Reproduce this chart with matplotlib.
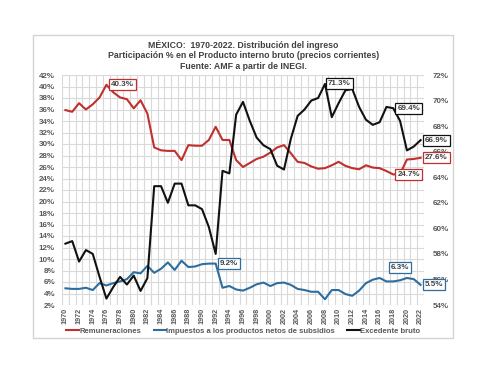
import matplotlib
matplotlib.use('Agg')
import matplotlib.pyplot as plt
from matplotlib.patches import Rectangle
from matplotlib.ticker import FixedLocator

plt.rcParams['font.family'] = ['Liberation Sans', 'DejaVu Sans']

# --- data ---
years = list(range(1970, 2023))

remuneraciones = [35.9, 35.6, 37.1, 36.0, 36.9, 38.1, 40.3, 39.0, 38.1, 37.8,
                  36.2, 37.6, 35.3, 29.4, 28.9, 28.8, 28.8, 27.2, 29.8, 29.7,
                  29.7, 30.7, 33.0, 30.7, 30.7, 27.2, 26.0, 26.7, 27.4, 27.8,
                  28.5, 29.4, 29.8, 28.4, 26.9, 26.7, 26.1, 25.7, 25.8, 26.3,
                  26.9, 26.2, 25.8, 25.6, 26.3, 25.9, 25.8, 25.3, 24.7, 24.8,
                  27.3, 27.4, 27.6]

impuestos = [4.9, 4.8, 4.8, 5.0, 4.6, 5.8, 5.4, 5.8, 6.1, 6.5,
             7.7, 7.5, 8.8, 7.6, 8.3, 9.4, 8.1, 9.7, 8.6, 8.7,
             9.1, 9.2, 9.2, 5.0, 5.3, 4.7, 4.5, 5.0, 5.6, 5.9,
             5.3, 5.8, 5.9, 5.5, 4.8, 4.6, 4.3, 4.3, 3.0, 4.6,
             4.6, 3.9, 3.6, 4.5, 5.8, 6.4, 6.7, 6.1, 6.1, 6.3,
             6.7, 6.5, 5.5]

excedente = [58.8, 59.0, 57.4, 58.3, 58.0, 56.2, 54.5, 55.4, 56.2, 55.6,
             56.3, 55.1, 56.1, 63.3, 63.3, 62.0, 63.5, 63.5, 61.8, 61.8,
             61.5, 60.1, 58.0, 64.5, 64.3, 68.9, 69.9, 68.4, 67.1, 66.5,
             66.2, 64.9, 64.6, 67.0, 68.8, 69.3, 70.0, 70.2, 71.3, 68.7,
             69.8, 70.8, 70.9, 69.5, 68.5, 68.1, 68.3, 69.5, 69.4, 68.4,
             66.1, 66.4, 66.9]

left_ticks = list(range(2, 43, 2))
right_ticks = list(range(54, 73, 2))
year_labels = years[::2]

RED = '#c0302e'
BLUE = '#2e6e9e'
BLACK = '#111111'
GRAY = '#595959'

fig = plt.figure(figsize=(4.87, 3.76), dpi=100)
fig.patches.append(Rectangle((33 / 487, 1 - 338 / 376), 420 / 487, 303 / 376,
                             transform=fig.transFigure, fill=False,
                             edgecolor='#d4d4d4', linewidth=1.0))

ax = fig.add_axes([62 / 487, 1 - 305 / 376, 362 / 487, 230 / 376])
ax2 = ax.twinx()

l1, = ax.plot(years, remuneraciones, color=RED, lw=1.5, label='Remuneraciones')
l2, = ax.plot(years, impuestos, color=BLUE, lw=1.5,
              label='Impuestos a los productos netos de subsidios')
l3, = ax2.plot(years, excedente, color=BLACK, lw=1.5, label='Excedente bruto')

ax.set_xlim(1969.5, 2022.5)
ax.set_ylim(2, 42)
ax2.set_ylim(54, 72)

ax.set_yticks(left_ticks)
ax.set_yticklabels([f'{t}%' for t in left_ticks])
ax2.set_yticks(right_ticks)
ax2.set_yticklabels([f'{t}%' for t in right_ticks])
ax.set_xticks(year_labels)
ax.set_xticklabels([str(y) for y in year_labels], rotation=90)

# vertical grid between categories, horizontal every 2%
ax.xaxis.set_minor_locator(FixedLocator([y - 0.5 for y in years] + [2022.5]))
ax.grid(which='minor', axis='x', color='#d9d9d9', lw=0.8)
ax.grid(which='major', axis='y', color='#d9d9d9', lw=0.8)
ax.set_axisbelow(True)

for a in (ax, ax2):
    for s in a.spines.values():
        s.set_visible(False)
    a.tick_params(which='both', length=0, labelsize=5.8, labelcolor=GRAY)
    for lab in a.get_xticklabels() + a.get_yticklabels():
        lab.set_fontweight('bold')
ax.tick_params(axis='y', pad=5)
ax.tick_params(axis='x', pad=2, labelsize=5.2)
ax2.tick_params(axis='y', pad=6)


def label(src, x, y, txt, color, dx, dy, ha='left'):
    ax2.annotate(txt, xy=(x, y), xycoords=src.transData, xytext=(dx, dy),
                 textcoords='offset points', ha=ha, va='center',
                 fontsize=5.8, fontweight='bold', color='#404040',
                 bbox=dict(boxstyle='square,pad=0.25', fc='white', ec=color, lw=0.9),
                 zorder=6, annotation_clip=False)


label(ax, 1976, 40.3, '40.3%', RED, 3, 0)
label(ax, 1992, 9.2, '9.2%', BLUE, 3, 0)
label(ax2, 2008, 71.3, '71.3%', BLACK, 2, 0)
label(ax2, 2018, 69.4, '69.4%', BLACK, 3, 0)
label(ax, 2018, 24.7, '24.7%', RED, 3, 0)
label(ax, 2022, 27.6, '27.6%', RED, 3, 0)
label(ax2, 2022, 66.9, '66.9%', BLACK, 3, 0)
label(ax, 2019, 6.3, '6.3%', BLUE, 0, 9, ha='center')
label(ax, 2022, 5.5, '5.5%', BLUE, 3, 0)

fig.text(0.5, 1 - 55.5 / 376,
         'MÉXICO:  1970-2022. Distribución del ingreso\n'
         'Participación % en el Producto interno bruto (precios corrientes)\n'
         'Fuente: AMF a partir de INEGI.',
         ha='center', va='center', fontsize=6.3, fontweight='bold',
         color='#404040', linespacing=1.2)

fig.legend(handles=[l1, l2, l3], loc='center', bbox_to_anchor=(0.5, 1 - 331 / 376),
           ncol=3, frameon=False, prop={'weight': 'bold', 'size': 5.5},
           labelcolor=GRAY, handlelength=1.6, handletextpad=0.1, columnspacing=1.6)

fig.savefig('out.png', dpi=100, facecolor='white')
